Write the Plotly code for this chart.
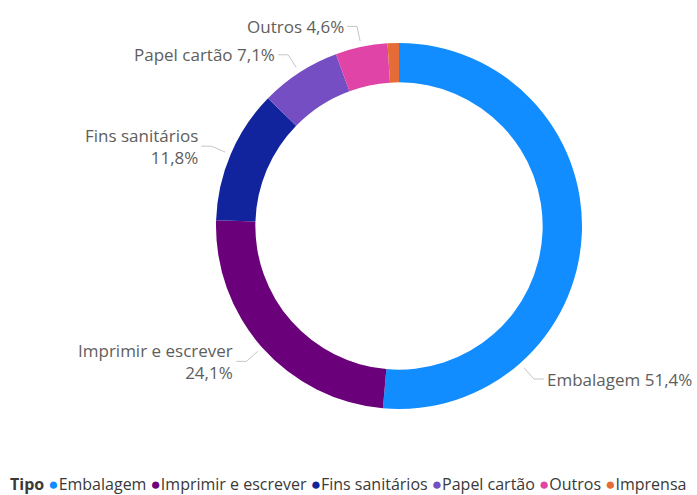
import math
import plotly.graph_objects as go

# ---- data ----
categories = ["Embalagem", "Imprimir e escrever", "Fins sanitários", "Papel cartão", "Outros", "Imprensa"]
shares = [51.4, 24.1, 11.8, 7.1, 4.6, 1.0]
legend_title = "Tipo"

# ---- styles / layout constants ----
colors = ["#118DFF", "#6B007B", "#12239E", "#744EC2", "#E044A7", "#E66C37"]
W, H = 697, 495
CX, CY, R = 399, 226, 183
HOLE = 0.785
FONT = "Open Sans, Noto Sans, sans-serif"
LABEL_COLOR = "#605E5C"
LINE_COLOR = "#C8C6C4"
wrapped = {"Fins sanitários", "Imprimir e escrever"}
shown = {"Embalagem", "Imprimir e escrever", "Fins sanitários", "Papel cartão", "Outros"}
anchor_override = {"Embalagem": 138.6}  # label moved along slice to fit canvas

fig = go.Figure(go.Pie(
    labels=categories, values=shares, hole=HOLE, sort=False,
    direction="clockwise", rotation=0,
    marker=dict(colors=colors, line=dict(width=0)),
    textinfo="none", hoverinfo="label+percent", showlegend=False,
    domain=dict(x=[(CX - R) / W, (CX + R) / W], y=[(H - CY - R) / H, (H - CY + R) / H]),
))

def px(x):
    return x / W

def py(y):
    return 1 - y / H

total = sum(shares)
cum = 0.0
annotations = []
shapes = []
for name, v in zip(categories, shares):
    start = cum / total * 360
    cum += v
    end = cum / total * 360
    if name not in shown:
        continue
    ang = anchor_override.get(name, (start + end) / 2)
    a = math.radians(ang)
    sx, sy = math.sin(a), -math.cos(a)
    ax, ay = CX + (R + 6) * sx, CY + (R + 6) * sy
    ex, ey = CX + (R + 21) * sx, CY + (R + 21) * sy
    side = 1 if sx > 0 else -1
    hx = ex + side * 10
    shapes.append(dict(type="path", xref="paper", yref="paper",
                       path=f"M {px(ax)} {py(ay)} L {px(ex)} {py(ey)} L {px(hx)} {py(ey)}",
                       line=dict(color=LINE_COLOR, width=1)))
    pct = f"{v / total * 100:.1f}%".replace(".", ",")
    txt = f"{name}<br>{pct}" if name in wrapped else f"{name} {pct}"
    annotations.append(dict(x=px(hx + side * 1), y=py(ey), xref="paper", yref="paper",
                            text=txt, showarrow=False,
                            xanchor="left" if side > 0 else "right", yanchor="middle",
                            align="left" if side > 0 else "right",
                            font=dict(family=FONT, size=17, color=LABEL_COLOR)))

# legend drawn as one text line
parts = [f"<b>{legend_title}</b>"]
for name, c in zip(categories, colors):
    parts.append(f"<span style='color:{c};font-size:17px'>●</span>{name}")
annotations.append(dict(x=px(9), y=py(483), xref="paper", yref="paper",
                        text=" ".join(parts), showarrow=False,
                        xanchor="left", yanchor="middle", borderpad=0,
                        font=dict(family=FONT, size=16, color="#3A3938")))

fig.update_layout(
    width=W, height=H, margin=dict(l=0, r=0, t=0, b=0),
    paper_bgcolor="white", plot_bgcolor="white",
    annotations=annotations, shapes=shapes,
)
fig.write_html("out.html", config={"displayModeBar": False},
               post_script="document.body.style.margin='0px';")
